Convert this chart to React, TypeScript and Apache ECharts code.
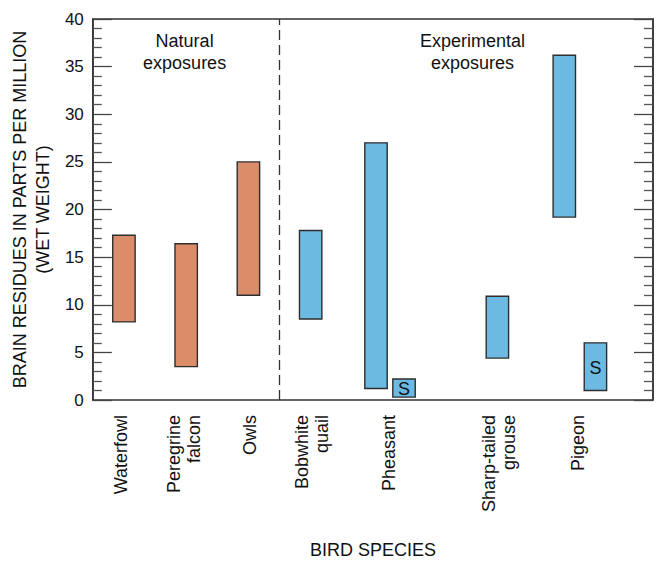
import React, { useEffect, useRef } from "react";
import * as echarts from "echarts";

// ---- data ----
const naturalX = [1.0, 3.0, 5.0];
const naturalLow = [8.2, 3.5, 11.0];
const naturalHigh = [17.3, 16.4, 25.0];

const experimentalX = [7.0, 9.1, 10.0, 13.0, 15.15, 16.15];
const experimentalLow = [8.5, 1.2, 0.3, 4.4, 19.2, 1.0];
const experimentalHigh = [17.8, 27.0, 2.2, 10.9, 36.2, 6.0];
const experimentalMark = ["", "", "S", "", "", "S"];

const speciesLabels = [
  "Waterfowl",
  "Peregrine\nfalcon",
  "Owls",
  "Bobwhite\nquail",
  "Pheasant",
  "Sharp-tailed\ngrouse",
  "Pigeon",
];
const speciesLabelX = [0.9, 2.92, 5.04, 7.04, 9.53, 13.04, 15.58];

const groupLabels = ["Natural\nexposures", "Experimental\nexposures"];
const groupLabelX = [2.95, 12.2];
const groupLabelY = [36.5, 36.5];

const dividerX = 6.0;
const yTicks = [0, 5, 10, 15, 20, 25, 30, 35, 40];

const FONT = '"Liberation Sans", Arial, Helvetica, sans-serif';
const BAR_W = 0.72;
const ORANGE = "#DB8D6A";
const BLUE = "#6CB9E1";
const EDGE = "#2e2e2e";

function barRenderer(fill: string, marks: string[] | null) {
  return (params: any, api: any) => {
    const x = api.value(0);
    const lo = api.value(1);
    const hi = api.value(2);
    const pTop = api.coord([x, hi]);
    const pBot = api.coord([x, lo]);
    const w = api.size([BAR_W, 0])[0];
    const children: any[] = [
      {
        type: "rect",
        shape: { x: pTop[0] - w / 2, y: pTop[1], width: w, height: pBot[1] - pTop[1] },
        style: { fill, stroke: EDGE, lineWidth: 1.4 },
      },
    ];
    const mark = marks ? marks[params.dataIndex] : "";
    if (mark) {
      children.push({
        type: "text",
        x: pTop[0],
        y: (pTop[1] + pBot[1]) / 2 + 1,
        style: {
          text: mark,
          align: "center",
          verticalAlign: "middle",
          fontSize: 18,
          fontFamily: FONT,
          fill: "#111",
        },
      });
    }
    return { type: "group", children };
  };
}

export default function App() {
  const ref = useRef<HTMLDivElement>(null);
  useEffect(() => {
    if (!ref.current) return;
    const chart = echarts.init(ref.current, null, { renderer: "svg" });
    const yAxisBase = {
      type: "value",
      min: 0,
      max: 40,
      interval: 5,
      splitLine: { show: false },
      axisLine: { show: true, lineStyle: { color: "#333", width: 1.5 } },
      axisTick: { show: true, inside: true, length: 19, lineStyle: { color: "#444", width: 1.3 } },
      minorTick: { show: true, splitNumber: 5, length: 9, lineStyle: { color: "#555", width: 1.3 } },
    };
    chart.setOption({
      animation: false,
      backgroundColor: "#ffffff",
      grid: {
        left: 92,
        top: 19,
        width: 561,
        height: 387,
        show: true,
        borderColor: "#333",
        borderWidth: 1.5,
        containLabel: false,
      },
      xAxis: {
        type: "value",
        min: 0,
        max: 18,
        axisLine: { show: false },
        axisTick: { show: false },
        axisLabel: { show: false },
        splitLine: { show: false },
        name: "BIRD SPECIES",
        nameLocation: "middle",
        nameGap: 140,
        nameTextStyle: { fontSize: 18, fontFamily: FONT, color: "#111", lineHeight: 20 },
      },
      yAxis: [
        {
          ...yAxisBase,
          position: "left",
          axisLabel: {
            show: true,
            fontSize: 17,
            fontFamily: FONT,
            color: "#111",
            margin: 9,
            formatter: (v: number) => (yTicks.indexOf(v) >= 0 ? String(v) : ""),
          },
          name: "BRAIN RESIDUES IN PARTS PER MILLION\n(WET WEIGHT)",
          nameLocation: "middle",
          nameRotate: 90,
          nameGap: 34,
          nameTextStyle: {
            fontSize: 18,
            fontFamily: FONT,
            color: "#111",
            lineHeight: 23,
            align: "center",
          },
        },
        {
          ...yAxisBase,
          position: "right",
          axisLabel: { show: false },
        },
      ],
      series: [
        {
          type: "custom",
          name: "Natural",
          renderItem: barRenderer(ORANGE, null),
          data: naturalX.map((x, i) => [x, naturalLow[i], naturalHigh[i]]),
          encode: { x: 0, y: [1, 2] },
          markLine: {
            silent: true,
            symbol: ["none", "none"],
            label: { show: false },
            lineStyle: { type: [10, 5], color: "#333", width: 1.3 },
            data: [{ xAxis: dividerX }],
          },
          z: 3,
        },
        {
          type: "custom",
          name: "Experimental",
          renderItem: barRenderer(BLUE, experimentalMark),
          data: experimentalX.map((x, i) => [x, experimentalLow[i], experimentalHigh[i]]),
          encode: { x: 0, y: [1, 2] },
          z: 3,
        },
        {
          type: "custom",
          name: "Species labels",
          silent: true,
          renderItem: (params: any, api: any) => {
            const p = api.coord([api.value(0), 0]);
            return {
              type: "text",
              x: p[0],
              y: p[1] + 15,
              rotation: Math.PI / 2,
              style: {
                text: speciesLabels[params.dataIndex],
                align: "right",
                verticalAlign: "middle",
                fontSize: 18,
                lineHeight: 20,
                fontFamily: FONT,
                fill: "#111",
              },
            };
          },
          data: speciesLabelX.map((x) => [x, 0]),
          encode: { x: 0, y: 1 },
          clip: false,
        },
        {
          type: "custom",
          name: "Group labels",
          silent: true,
          renderItem: (params: any, api: any) => {
            const p = api.coord([api.value(0), api.value(1)]);
            return {
              type: "text",
              x: p[0],
              y: p[1],
              style: {
                text: groupLabels[params.dataIndex],
                align: "center",
                verticalAlign: "middle",
                fontSize: 18,
                lineHeight: 22,
                fontFamily: FONT,
                fill: "#111",
              },
            };
          },
          data: groupLabelX.map((x, i) => [x, groupLabelY[i]]),
          encode: { x: 0, y: 1 },
        },
      ],
    });
    return () => chart.dispose();
  }, []);
  return (
    <div
      ref={ref}
      style={{ position: "fixed", left: 0, top: 0, width: 657, height: 565, background: "#fff" }}
    />
  );
}
